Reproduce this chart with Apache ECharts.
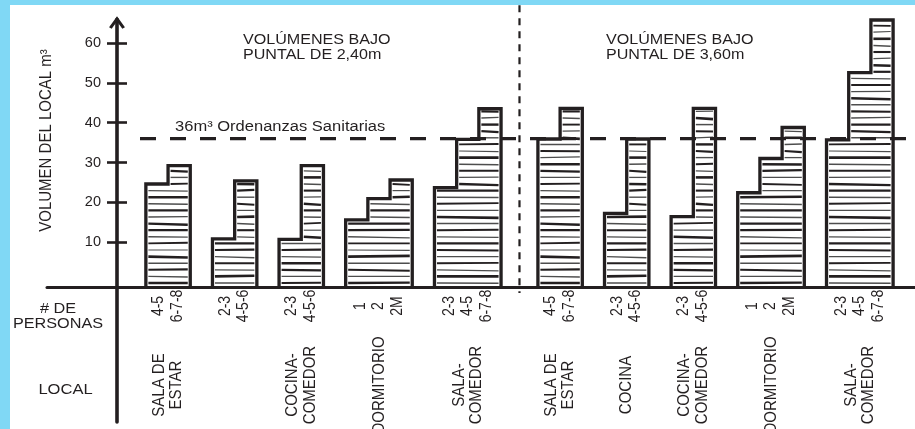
<!DOCTYPE html>
<html>
<head>
<meta charset="utf-8">
<script src="https://cdn.jsdelivr.net/npm/echarts@6/dist/echarts.min.js"></script>
<style>
  html, body { margin: 0; padding: 0; background: #ffffff; }
  #chart { position: absolute; left: 0; top: 0; width: 915px; height: 429px; }
  .frame-top { position: absolute; left: 0; top: 0; width: 915px; height: 5px; background: #80d8f5; z-index: 2; }
  .frame-left { position: absolute; left: 0; top: 0; width: 10px; height: 429px; background: #80d8f5; z-index: 2; }
</style>
</head>
<body>
<div id="chart"></div>
<div class="frame-top"></div>
<div class="frame-left"></div>
<script>
// Volumen del local (m3) por número de personas, bajo puntal de 2,40 m y de 3,60 m
const puntal240 = [[24.6, 29.2], [10.8, 25.4], [10.7, 29.2], [15.6, 20.9, 25.6], [23.7, 35.8, 43.5]];
const puntal360 = [[35.9, 43.6], [17.2, 35.9], [16.4, 43.6], [22.4, 31.0, 38.8], [35.7, 52.6, 65.8]];
const personas240 = [['4-5', '6-7-8'], ['2-3', '4-5-6'], ['2-3', '4-5-6'], ['1', '2', '2M'], ['2-3', '4-5', '6-7-8']];
const personas360 = [['4-5', '6-7-8'], ['2-3', '4-5-6'], ['2-3', '4-5-6'], ['1', '2', '2M'], ['2-3', '4-5', '6-7-8']];
const locales240 = ['SALA DE\nESTAR', '', 'COCINA-\nCOMEDOR', 'DORMITORIO', 'SALA-\nCOMEDOR'];
const locales360 = ['SALA DE\nESTAR', 'COCINA', 'COCINA-\nCOMEDOR', 'DORMITORIO', 'SALA-\nCOMEDOR'];
const ordenanza = 36;
const yTicks = [10, 20, 30, 40, 50, 60];
const titulos = ['VOLÚMENES BAJO\nPUNTAL DE 2,40m', 'VOLÚMENES BAJO\nPUNTAL DE 3,60m'];
const ejeY = 'VOLUMEN DEL LOCAL m³';
const notaOrdenanza = '36m³ Ordenanzas Sanitarias';

// ---- layout ----
const W = 915, H = 429;
const INK = '#231f20';
const FONT = '"Liberation Sans", Arial, Helvetica, sans-serif';
const GRID_LEFT = 47, GRID_RIGHT = 0, GRID_BOTTOM = 7;
const AXIS_X = 117;          // pixel column of the vertical axis
const UNIT = 22.2;           // pixel width of one step
const Y_MIN = -35.2, Y_MAX = 66, PX_PER_VAL = 3.98;
const GRID_TOP = H - GRID_BOTTOM - (Y_MAX - Y_MIN) * PX_PER_VAL;
const BASE_LIFT = 135;       // horizontal axis sits this far above the grid bottom
const X_MIN = -(AXIS_X - GRID_LEFT) / UNIT;
const X_MAX = X_MIN + (W - GRID_LEFT - GRID_RIGHT) / UNIT;
const LEAD = 1.3, GAP = 1, SECTION_GAP = 1.66;
const HATCH = 6.6;
const TILT = [0, 0.6, -0.4, 0, 0.9, 0, -0.7, 0.3, 0, 1.1, -0.3, 0, 0.5];
const WIDTHS = [2.4, 1.3, 2.1, 1.5, 2.6, 1.2, 1.9, 1.4, 2.2];
const MAX_STEPS = 3;

// group start positions along the horizontal scale (in steps)
const starts = [[], []];
(function () {
  let x = LEAD;
  [puntal240, puntal360].forEach(function (sec, si) {
    if (si > 0) x += SECTION_GAP - GAP;
    sec.forEach(function (steps) { starts[si].push(x); x += steps.length + GAP; });
  });
})();
const lastA = puntal240.length - 1;
const DIVIDER = (starts[0][lastA] + puntal240[lastA].length + starts[1][0]) / 2;

function makeRender(values, personas, locales) {
  return function (params, api) {
    const i = params.dataIndex;
    const n = values[i].length;
    const cs = params.coordSys;
    const baseY = cs.y + cs.height - BASE_LIFT;
    const x0 = api.value(0);
    const xs = [];
    for (let k = 0; k <= n; k++) xs.push(api.coord([x0 + k, 0])[0]);
    const tops = [];
    for (let k = 0; k < n; k++) tops.push(api.coord([x0 + k, api.value(k + 1)])[1]);

    const children = [];
    // hatching
    for (let y = baseY - 4, j = 0; ; y -= HATCH, j++) {
      const k = tops.findIndex(function (t) { return t < y - 2.5; });
      if (k < 0) break;
      const w = WIDTHS[(j + i * 3) % WIDTHS.length];
      children.push({
        type: 'line',
        shape: { x1: xs[k] + 2.5, y1: y, x2: xs[n] - 2.5, y2: y + TILT[(j + i * 5) % TILT.length] },
        style: { stroke: w >= 1.9 ? INK : '#4d4d4d', lineWidth: w }
      });
    }
    // stepped outline
    const pts = [[xs[0], baseY]];
    for (let k = 0; k < n; k++) { pts.push([xs[k], tops[k]]); pts.push([xs[k + 1], tops[k]]); }
    pts.push([xs[n], baseY]);
    children.push({
      type: 'polyline', shape: { points: pts },
      style: { stroke: INK, lineWidth: 3.3, fill: 'none', lineJoin: 'miter' }
    });
    const cx = (xs[0] + xs[n]) / 2;
    // number of persons
    children.push({
      type: 'text', x: cx, y: baseY + 19, rotation: Math.PI / 2, scaleY: 1.12,
      style: { text: personas[i].join('\n'), font: '14px ' + FONT, fill: INK,
               align: 'center', verticalAlign: 'middle', lineHeight: 16.5 }
    });
    // room name
    if (locales[i]) {
      children.push({
        type: 'text', x: cx, y: baseY + 98, rotation: Math.PI / 2, scaleY: 1.1,
        style: { text: locales[i], font: '15px ' + FONT, fill: INK,
                 align: 'center', verticalAlign: 'middle', lineHeight: 16 }
      });
    }
    return { type: 'group', children: children };
  };
}

function renderOrdenanza(params, api) {
  const cs = params.coordSys;
  const p = api.coord([0, api.value(1)]);
  return {
    type: 'group',
    children: [
      { type: 'line', shape: { x1: p[0] + 23, y1: p[1], x2: cs.x + cs.width, y2: p[1] },
        style: { stroke: INK, lineWidth: 3.2, lineDash: [16, 14] } },
      { type: 'text', x: p[0] + 58, y: p[1] - 11, scaleX: 1.18,
        style: { text: notaOrdenanza, font: '14px ' + FONT, fill: INK, align: 'left', verticalAlign: 'middle' } }
    ]
  };
}

function renderDivisor(params, api) {
  const cs = params.coordSys;
  const x = api.coord([api.value(0), 0])[0];
  const baseY = cs.y + cs.height - BASE_LIFT;
  return {
    type: 'line', shape: { x1: x, y1: cs.y - 14, x2: x, y2: baseY + 6 },
    style: { stroke: INK, lineWidth: 2.2, lineDash: [7, 6] }
  };
}

const stepDims = ['x'];
for (let k = 1; k <= MAX_STEPS; k++) stepDims.push('v' + k);

const chart = echarts.init(document.getElementById('chart'), null, { renderer: 'canvas' });
const axisText = { color: INK, fontSize: 14.5, fontFamily: FONT };

chart.setOption({
  animation: false,
  backgroundColor: '#ffffff',
  grid: { left: GRID_LEFT, right: GRID_RIGHT, top: GRID_TOP, bottom: GRID_BOTTOM, containLabel: false, outerBoundsMode: 'none' },
  xAxis: {
    type: 'value', min: X_MIN, max: X_MAX, position: 'bottom', offset: -BASE_LIFT,
    axisLine: { show: true, onZero: false, lineStyle: { color: INK, width: 3 } },
    axisTick: { show: false }, axisLabel: { show: false }, splitLine: { show: false }
  },
  yAxis: [
    {
      type: 'value', min: Y_MIN, max: Y_MAX, position: 'left', offset: -(AXIS_X - GRID_LEFT),
      axisLine: {
        show: true, onZero: false, lineStyle: { color: INK, width: 3.6 },
        symbol: ['none', 'path://M8,0 L16,11 L13.4,12.6 L8,5.2 L2.6,12.6 L0,11 Z'],
        symbolSize: [17, 12.5], symbolOffset: [0, -3.4]
      },
      axisTick: { show: true, length: 10, customValues: yTicks, lineStyle: { color: INK, width: 2.6 } },
      axisLabel: Object.assign({ customValues: yTicks, margin: 16 }, axisText),
      splitLine: { show: false }
    },
    {
      type: 'value', min: Y_MIN, max: Y_MAX, position: 'left', offset: -(AXIS_X - GRID_LEFT),
      axisLine: { show: false, onZero: false },
      axisTick: { show: true, inside: true, length: 10, customValues: yTicks, lineStyle: { color: INK, width: 2.6 } },
      axisLabel: { show: false }, splitLine: { show: false }
    }
  ],
  graphic: [
    { type: 'text', x: 243, y: 33, scaleX: 1.15,
      style: { text: titulos[0], font: '14px ' + FONT, fill: INK, align: 'left', verticalAlign: 'top', lineHeight: 14.5 } },
    { type: 'text', x: 606, y: 33, scaleX: 1.15,
      style: { text: titulos[1], font: '14px ' + FONT, fill: INK, align: 'left', verticalAlign: 'top', lineHeight: 14.5 } },
    { type: 'text', x: 46.5, y: 140.5, rotation: Math.PI / 2, scaleY: 1.1,
      style: { text: ejeY, font: '15px ' + FONT, fill: INK, align: 'center', verticalAlign: 'middle' } },
    { type: 'text', x: 58, y: 316.5, scaleX: 1.16,
      style: { text: '# DE\nPERSONAS', font: '14px ' + FONT, fill: INK, align: 'center', verticalAlign: 'middle', lineHeight: 15.5 } },
    { type: 'text', x: 65.5, y: 390, scaleX: 1.18,
      style: { text: 'LOCAL', font: '14px ' + FONT, fill: INK, align: 'center', verticalAlign: 'middle' } }
  ],
  series: [
    {
      name: 'Puntal 2,40 m', type: 'custom', coordinateSystem: 'cartesian2d', clip: false, silent: true,
      dimensions: stepDims, encode: { x: 0, y: [1, 2, 3] },
      data: puntal240.map(function (steps, i) { return [starts[0][i]].concat(steps); }),
      renderItem: makeRender(puntal240, personas240, locales240)
    },
    {
      name: 'Puntal 3,60 m', type: 'custom', coordinateSystem: 'cartesian2d', clip: false, silent: true,
      dimensions: stepDims, encode: { x: 0, y: [1, 2, 3] },
      data: puntal360.map(function (steps, i) { return [starts[1][i]].concat(steps); }),
      renderItem: makeRender(puntal360, personas360, locales360)
    },
    {
      name: 'Ordenanzas Sanitarias', type: 'custom', coordinateSystem: 'cartesian2d', clip: false, silent: true, z: 5,
      encode: { x: 0, y: 1 },
      data: [[0, ordenanza]],
      renderItem: renderOrdenanza
    },
    {
      name: 'Divisor', type: 'custom', coordinateSystem: 'cartesian2d', clip: false, silent: true, z: 5,
      encode: { x: 0, y: 1 },
      data: [[DIVIDER, 0]],
      renderItem: renderDivisor
    }
  ]
});
</script>
</body>
</html>
